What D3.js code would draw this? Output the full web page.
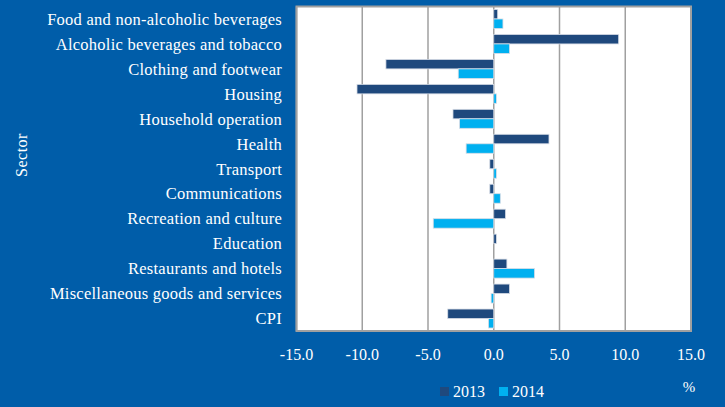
<!DOCTYPE html>
<html>
<head>
    <title>Price change by sector</title>
    <script src="https://cdn.jsdelivr.net/npm/d3@7"></script>
    <style>
        body { margin: 0; background: #005DA9; }
        text { font-family: 'Liberation Serif', 'Times New Roman', Times, 'DejaVu Serif', serif; fill: #ffffff; }
    </style>
</head>
<body>
    <svg width="725" height="407" id="mainsvg"></svg>
    <script>
        // data (percent)
        const sectors = ['Food and non-alcoholic beverages', 'Alcoholic beverages and tobacco',
            'Clothing and footwear', 'Housing', 'Household operation', 'Health', 'Transport',
            'Communications', 'Recreation and culture', 'Education', 'Restaurants and hotels',
            'Miscellaneous goods and services', 'CPI'];
        const values2013 = [0.3, 9.5, -8.2, -10.4, -3.1, 4.2, -0.3, -0.3, 0.9, 0.2, 1.0, 1.2, -3.5];
        const values2014 = [0.7, 1.2, -2.7, 0.2, -2.6, -2.1, 0.2, 0.5, -4.6, 0.0, 3.1, -0.2, -0.4];
        const years = ['2013', '2014'];
        const xTicks = [-15, -10, -5, 0, 5, 10, 15];

        const svg = d3.select('svg');
        const plotL = 296.5, plotR = 691, plotT = 6.5, plotB = 331;

        const x = d3.scaleLinear().domain([-15, 15]).range([plotL, plotR]);
        const y = d3.scaleBand().domain(sectors).range([plotT, plotB]).paddingInner(0.24).paddingOuter(0.12);
        const sub = d3.scaleBand().domain(years).range([0, y.bandwidth()]);
        const color = d3.scaleOrdinal().domain(years).range(['#1F497D', '#00B0F0']);

        // plot area
        svg.append('rect')
            .attr('x', plotL).attr('y', plotT)
            .attr('width', plotR - plotL).attr('height', plotB - plotT)
            .attr('fill', '#ffffff');

        // vertical grid lines
        svg.append('g').selectAll('line').data(xTicks).join('line')
            .attr('x1', d => x(d)).attr('x2', d => x(d))
            .attr('y1', plotT).attr('y2', plotB)
            .attr('stroke', '#a0a0a0').attr('stroke-width', 1.5);

        const rows = sectors.map((s, i) => ({ sector: s, values: [values2013[i], values2014[i]] }));

        svg.append('g').selectAll('g').data(rows).join('g')
            .attr('transform', d => `translate(0,${y(d.sector)})`)
            .selectAll('rect')
            .data(d => d.values.map((v, k) => ({ year: years[k], value: v })).filter(e => e.value !== 0))
            .join('rect')
            .attr('x', d => x(Math.min(0, d.value)))
            .attr('y', d => sub(d.year))
            .attr('width', d => Math.abs(x(d.value) - x(0)))
            .attr('height', sub.bandwidth())
            .attr('fill', d => color(d.year))
            .attr('stroke', '#d8dde6').attr('stroke-width', 0.8);

        // border
        svg.append('rect')
            .attr('x', plotL).attr('y', plotT)
            .attr('width', plotR - plotL).attr('height', plotB - plotT)
            .attr('fill', 'none').attr('stroke', '#a0a0a0').attr('stroke-width', 2);

        // category labels
        svg.append('g').selectAll('text').data(sectors).join('text')
            .attr('x', 282)
            .attr('y', d => y(d) + y.bandwidth() / 2)
            .attr('dy', '0.35em')
            .attr('text-anchor', 'end')
            .attr('font-size', 16.5)
            .attr('letter-spacing', 0.25)
            .text(d => d);

        // x tick labels
        svg.append('g').selectAll('text').data(xTicks).join('text')
            .attr('x', d => x(d))
            .attr('y', 360)
            .attr('text-anchor', 'middle')
            .attr('font-size', 16)
            .text(d => d.toFixed(1));

        svg.append('text')
            .attr('transform', 'translate(27,155) rotate(-90)')
            .attr('text-anchor', 'middle')
            .attr('font-size', 16)
            .attr('letter-spacing', 0.5)
            .text('Sector');

        svg.append('text')
            .attr('x', 689).attr('y', 392)
            .attr('text-anchor', 'middle')
            .attr('font-size', 15)
            .text('%');

        // legend
        const legend = svg.append('g').selectAll('g').data(years).join('g')
            .attr('transform', (d, i) => `translate(${440 + i * 59},387)`);
        legend.append('rect')
            .attr('width', 9).attr('height', 9)
            .attr('fill', d => color(d));
        legend.append('text')
            .attr('x', 13).attr('y', 10)
            .attr('font-size', 16)
            .text(d => d);
    </script>
</body>
</html>
